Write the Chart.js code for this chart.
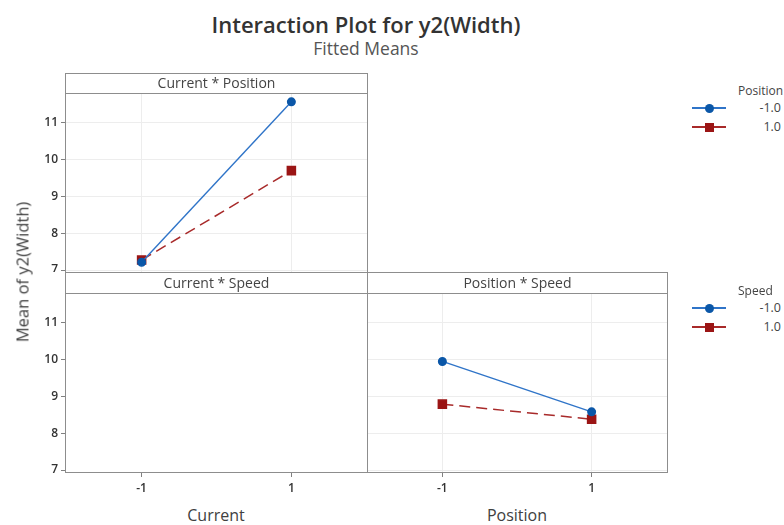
<!DOCTYPE html>
<html>
<head>
<meta charset="utf-8">
<script src="https://cdn.jsdelivr.net/npm/chart.js@4.4.0/dist/chart.umd.min.js"></script>
<style>
  html, body { margin:0; padding:0; background:#fff; }
  body { width:784px; height:525px; position:relative; overflow:hidden; font-family:"Open Sans", "Noto Sans", sans-serif; }
  canvas { position:absolute; }
  .abs { position:absolute; }
  .hline { position:absolute; height:1px; background:#8d8d8d; }
  .vline { position:absolute; width:1px; background:#8d8d8d; }
  .hdr { position:absolute; text-align:center; font-size:14px; color:#444; line-height:20px; }
  .lgt { position:absolute; font-size:12px; color:#444; line-height:16px; }
  .lgl { position:absolute; font-size:12.5px; color:#444; line-height:16px; text-align:right; right:3px; }
</style>
</head>
<body>
<div class="abs" style="left:65px;width:602px;top:10px;text-align:center;font-weight:600;font-size:22px;line-height:28px;color:#333;">Interaction Plot for y2(Width)</div>
<div class="abs" style="left:65px;width:602px;top:37px;text-align:center;font-size:17.5px;line-height:22px;color:#555;">Fitted Means</div>

<canvas id="c1" width="367" height="179" style="left:0;top:93px;"></canvas>
<canvas id="c2" width="367" height="209" style="left:0;top:293px;"></canvas>
<canvas id="c3" width="300" height="209" style="left:367px;top:293px;"></canvas>

<!-- panel frames -->
<div class="hline" style="left:65px;top:73px;width:302px;"></div>
<div class="hline" style="left:65px;top:93px;width:302px;"></div>
<div class="vline" style="left:65px;top:73px;height:400px;"></div>
<div class="vline" style="left:367px;top:73px;height:400px;"></div>
<div class="hline" style="left:65px;top:272px;width:603px;"></div>
<div class="hline" style="left:65px;top:293px;width:603px;"></div>
<div class="vline" style="left:667px;top:272px;height:201px;"></div>
<div class="hline" style="left:65px;top:472px;width:603px;"></div>

<div class="hdr" style="left:66px;width:301px;top:73px;">Current * Position</div>
<div class="hdr" style="left:66px;width:301px;top:273px;">Current * Speed</div>
<div class="hdr" style="left:368px;width:299px;top:273px;">Position * Speed</div>

<div class="abs" style="left:22px;top:272px;transform:translate(-50%,-50%) rotate(-90deg);font-size:16.5px;color:#404040;white-space:nowrap;">Mean of y2(Width)</div>
<div class="abs" style="left:216px;top:515px;transform:translate(-50%,-50%);font-size:16px;color:#404040;">Current</div>
<div class="abs" style="left:517px;top:515px;transform:translate(-50%,-50%);font-size:16px;color:#404040;">Position</div>

<div id="legends"></div>

<script>
// ---- data ----
const xLevels = [-1, 1];
const xTickLabels = ["-1", "1"];
const yTicks = [7, 8, 9, 10, 11];
// Current * Position panel (x = Current)
const cpPositionNeg = [7.21, 11.57];
const cpPositionPos = [7.27, 9.70];
// Position * Speed panel (x = Position)
const psSpeedNeg = [9.95, 8.58];
const psSpeedPos = [8.79, 8.38];
// legend entries
const legendLevels = ["-1.0", "1.0"];

const BLUE = '#0b57a8';
const RED = '#9b1515';
const GRID = '#ededed';
const TICKC = '#808080';

function pts(arr) { return xLevels.map((x, i) => ({ x: x, y: arr[i] })); }
function dsBlue(arr) {
  return { data: pts(arr), borderColor: '#2f74c8', backgroundColor: BLUE, pointBackgroundColor: BLUE, pointBorderColor: BLUE,
           borderWidth: 1.4, pointStyle: 'circle', pointRadius: 3.8, tension: 0 };
}
function dsRed(arr) {
  return { data: pts(arr), borderColor: '#a82a2a', backgroundColor: RED, pointBackgroundColor: RED, pointBorderColor: RED,
           borderWidth: 1.5, borderDash: [11, 6], pointStyle: 'rect', pointRadius: 5.7, tension: 0 };
}

function setTicks(vals) { return function (scale) { scale.ticks = vals.map(v => ({ value: v })); }; }
function noPad(s) { s.paddingTop = 0; s.paddingBottom = 0; s.paddingLeft = 0; s.paddingRight = 0; }
const tickFont = { family: "'Open Sans', 'Noto Sans', sans-serif", size: 12, weight: '600' };

function makeChart(id, datasets, o) {
  const x = {
    type: 'linear', min: -2.01, max: 2.01,
    afterBuildTicks: setTicks(xLevels),
    border: { display: false },
    grid: { display: true, color: GRID, drawOnChartArea: o.xGrid, drawTicks: o.xTicks, tickLength: 5, tickColor: TICKC },
    ticks: { display: o.xTicks, color: '#333', font: tickFont, padding: 4, callback: (v) => xTickLabels[xLevels.indexOf(v)] },
    afterFit: (s) => { s.height = o.xTicks ? 30 : 0; noPad(s); }
  };
  const y = {
    type: 'linear', min: 6.946, max: 11.81,
    afterBuildTicks: setTicks(yTicks),
    border: { display: false },
    grid: { display: true, color: GRID, drawOnChartArea: o.yGrid, drawTicks: o.yTicks, tickLength: 5, tickColor: TICKC },
    ticks: { display: o.yTicks, color: '#333', font: tickFont, padding: 3 },
    afterFit: (s) => { s.width = o.yTicks ? 66 : 0; noPad(s); }
  };
  return new Chart(document.getElementById(id), {
    type: 'line',
    data: { datasets: datasets },
    options: {
      responsive: false, animation: false, devicePixelRatio: 1,
      layout: { padding: 0, autoPadding: false },
      clip: false,
      plugins: { legend: { display: false }, tooltip: { enabled: false }, title: { display: false } },
      scales: { x: x, y: y }
    }
  });
}

makeChart('c1', [dsBlue(cpPositionNeg), dsRed(cpPositionPos)], { xGrid: true, xTicks: false, yGrid: true, yTicks: true });
makeChart('c2', [], { xGrid: false, xTicks: true, yGrid: false, yTicks: true });
makeChart('c3', [dsBlue(psSpeedNeg), dsRed(psSpeedPos)], { xGrid: true, xTicks: true, yGrid: true, yTicks: false });

// ---- legends (HTML) ----
function legend(title, top) {
  const root = document.getElementById('legends');
  let h = '<div class="lgt" style="left:738px;top:' + (top - 8) + 'px;">' + title + '</div>';
  const rows = [top + 17, top + 36];
  rows.forEach((cy, i) => {
    const col = i === 0 ? BLUE : RED;
    const lcol = i === 0 ? '#2f74c8' : '#a82a2a';
    h += '<div class="abs" style="left:692px;top:' + (cy - 1) + 'px;width:34px;height:1.5px;background:' + lcol + ';"></div>';
    if (i === 0) h += '<div class="abs" style="left:' + (709 - 4.5) + 'px;top:' + (cy - 4.5) + 'px;width:9px;height:9px;border-radius:50%;background:' + col + ';"></div>';
    else h += '<div class="abs" style="left:' + (709 - 4.5) + 'px;top:' + (cy - 4.5) + 'px;width:9px;height:9px;background:' + col + ';"></div>';
    h += '<div class="lgl" style="top:' + (cy - 8) + 'px;">' + legendLevels[i] + '</div>';
  });
  root.insertAdjacentHTML('beforeend', h);
}
legend('Position', 91);
legend('Speed', 291);
</script>
</body>
</html>
